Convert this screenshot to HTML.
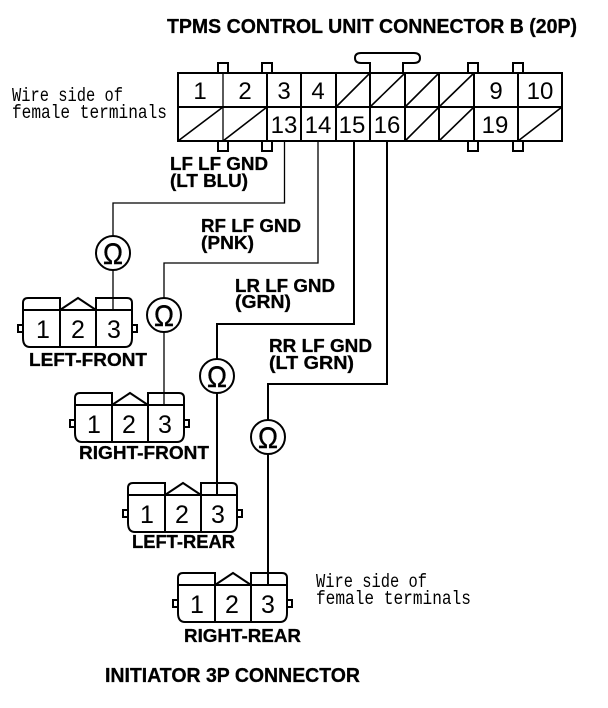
<!DOCTYPE html>
<html><head><meta charset="utf-8"><style>
html,body{margin:0;padding:0;background:#fff;width:608px;height:708px;overflow:hidden}
svg{display:block}
.b{font:bold 18.500px "Liberation Sans",sans-serif;fill:#000;stroke:#000;stroke-width:.3px}
.t{font:bold 20px "Liberation Sans",sans-serif;fill:#000;stroke:#000;stroke-width:.3px}
.n{font:24px "Liberation Sans",sans-serif;fill:#000;text-anchor:middle}
.c{font:25px "Liberation Sans",sans-serif;fill:#000;text-anchor:middle}
.m{font:19px "Liberation Mono",monospace;fill:#000}
.o{font:30px "Liberation Sans",sans-serif;fill:#000;text-anchor:middle;stroke:#000;stroke-width:.4px}
.l{fill:none;stroke:#000}
</style></head><body>
<svg width="608" height="708" viewBox="0 0 608 708" xmlns="http://www.w3.org/2000/svg">
<defs>
<g id="conn">
<path class="l" stroke-width="2" d="M0 27V40Q0 49 7 49H102Q109 49 109 40V27M0 27H-5V34H0M109 27H114V34H109M0 27V7M109 27V7M0 12H109M0 12V5Q0 0 5 0H37V12L55 0L73 12V0H104Q109 0 109 5V12"/>
<path class="l" stroke-width="2" d="M37 12V49M73 12V49"/>
</g>
<g id="om">
<circle cx="0" cy="0" r="17" fill="#fff" stroke="#000" stroke-width="2"/>
<text class="o" x="-10" y="11" style="text-anchor:start" textLength="20" lengthAdjust="spacingAndGlyphs">Ω</text>
</g>
</defs>

<text class="t" x="167" y="33" textLength="410" lengthAdjust="spacingAndGlyphs">TPMS CONTROL UNIT CONNECTOR B (20P)</text>

<!-- top loop and tabs -->
<path class="l" stroke-width="2" d="M370 73V63H361Q355 63 355 58Q355 53 361 53H414Q420 53 420 58Q420 63 414 63H403V73"/>
<g class="l" stroke-width="2">
<path d="M218 73V63H228V73M262 73V63H272V73M468 73V63H478V73M513 73V63H523V73"/>
<path d="M218 141V151H228V141M262 141V151H272V141M468 141V151H478V141M513 141V151H523V141"/>
</g>

<!-- main connector -->
<rect class="l" stroke-width="2" x="178" y="73" width="384" height="68"/>
<path class="l" stroke-width="2" d="M178 107H562"/>
<path class="l" stroke-width="1.3" d="M223 73V141"/>
<path class="l" stroke-width="2" d="M267 73V141M301 73V141M336 73V141M370 73V141M405 73V141M439 73V141M474 73V141M518 73V141"/>
<path class="l" stroke-width="1.6" d="M336 107L370 73M370 107L405 73M405 107L439 73M439 107L474 73M178 141L223 107M223 141L267 107M405 141L439 107M439 141L474 107M518 141L562 107"/>

<text class="n" x="200" y="99">1</text>
<text class="n" x="245" y="99">2</text>
<text class="n" x="284" y="99">3</text>
<text class="n" x="318" y="99">4</text>
<text class="n" x="496" y="99">9</text>
<text class="n" x="540" y="99">10</text>
<text class="n" x="284" y="133">13</text>
<text class="n" x="318" y="133">14</text>
<text class="n" x="352" y="133">15</text>
<text class="n" x="387" y="133">16</text>
<text class="n" x="495" y="133">19</text>

<text class="m" x="12" y="101" textLength="111" lengthAdjust="spacingAndGlyphs">Wire side of</text>
<text class="m" x="12" y="118" textLength="155" lengthAdjust="spacingAndGlyphs">female terminals</text>
<text class="m" x="316" y="587" textLength="111" lengthAdjust="spacingAndGlyphs">Wire side of</text>
<text class="m" x="316" y="604" textLength="155" lengthAdjust="spacingAndGlyphs">female terminals</text>

<!-- wires -->
<path class="l" stroke-width="1.3" d="M284.500 141V203H113V310"/>
<path class="l" stroke-width="1.3" d="M318 141V263H164V405"/>
<path class="l" stroke-width="2" d="M354 141V324H217V495"/>
<path class="l" stroke-width="2" d="M387 141V384H268V585"/>

<use href="#om" x="113" y="253"/>
<use href="#om" x="164" y="315"/>
<use href="#om" x="217" y="376"/>
<use href="#om" x="268" y="437"/>

<!-- connectors -->
<use href="#conn" x="23" y="298"/>
<text class="c" x="43" y="338">1</text><text class="c" x="78" y="338">2</text><text class="c" x="114" y="338">3</text>
<text class="b" x="29" y="366" textLength="118" lengthAdjust="spacingAndGlyphs">LEFT-FRONT</text>

<use href="#conn" x="75" y="393"/>
<text class="c" x="94" y="433">1</text><text class="c" x="129" y="433">2</text><text class="c" x="165" y="433">3</text>
<text class="b" x="79" y="459" textLength="130" lengthAdjust="spacingAndGlyphs">RIGHT-FRONT</text>

<use href="#conn" x="128" y="483"/>
<text class="c" x="147" y="523">1</text><text class="c" x="182" y="523">2</text><text class="c" x="218" y="523">3</text>
<text class="b" x="132" y="548" textLength="103" lengthAdjust="spacingAndGlyphs">LEFT-REAR</text>

<use href="#conn" x="178" y="573"/>
<text class="c" x="197" y="613">1</text><text class="c" x="232" y="613">2</text><text class="c" x="268" y="613">3</text>
<text class="b" x="184" y="642" textLength="117" lengthAdjust="spacingAndGlyphs">RIGHT-REAR</text>

<!-- wire labels -->
<text class="b" x="170" y="170" textLength="98" lengthAdjust="spacingAndGlyphs">LF LF GND</text>
<text class="b" x="170" y="187" textLength="78" lengthAdjust="spacingAndGlyphs">(LT BLU)</text>
<text class="b" x="201" y="232" textLength="100" lengthAdjust="spacingAndGlyphs">RF LF GND</text>
<text class="b" x="201" y="249" textLength="53" lengthAdjust="spacingAndGlyphs">(PNK)</text>
<text class="b" x="235" y="292" textLength="100" lengthAdjust="spacingAndGlyphs">LR LF GND</text>
<text class="b" x="235" y="308" textLength="56" lengthAdjust="spacingAndGlyphs">(GRN)</text>
<text class="b" x="269" y="352" textLength="103" lengthAdjust="spacingAndGlyphs">RR LF GND</text>
<text class="b" x="269" y="369" textLength="85" lengthAdjust="spacingAndGlyphs">(LT GRN)</text>

<text class="t" x="105" y="682" textLength="255" lengthAdjust="spacingAndGlyphs">INITIATOR 3P CONNECTOR</text>
</svg>
</body></html>
